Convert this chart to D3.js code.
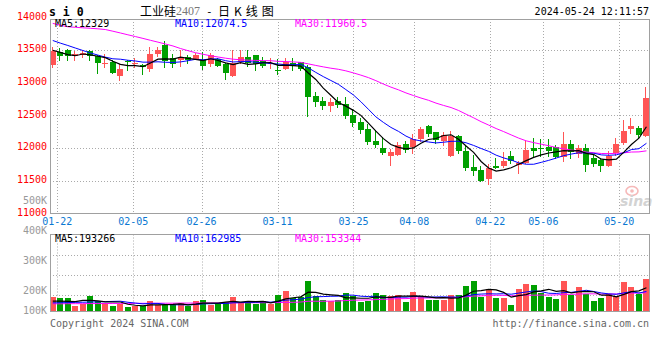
<!DOCTYPE html>
<html><head><meta charset="utf-8">
<script src="https://cdn.jsdelivr.net/npm/d3@7"></script>
<style>
body{margin:0;background:#fff}
svg{display:block}
text{font-family:"DejaVu Sans Mono",monospace;font-size:10px}
</style>
</head><body>
<svg id="chart" width="660" height="360"></svg>
<script>
const dates=["01-19","01-22","01-23","01-24","01-25","01-26","01-29","01-30","01-31","02-01","02-02","02-05","02-06","02-07","02-08","02-19","02-20","02-21","02-22","02-23","02-26","02-27","02-28","02-29","03-01","03-04","03-05","03-06","03-07","03-08","03-11","03-12","03-13","03-14","03-15","03-18","03-19","03-20","03-21","03-22","03-25","03-26","03-27","03-28","03-29","04-01","04-02","04-03","04-08","04-09","04-10","04-11","04-12","04-15","04-16","04-17","04-18","04-19","04-22","04-23","04-24","04-25","04-26","04-29","04-30","05-06","05-07","05-08","05-09","05-10","05-13","05-14","05-15","05-16","05-17","05-20","05-21","05-22","05-23","05-24"];
const open=[13273,13472,13503,13400,13421,13487,13400,13278,13323,13094,13325,13295,13273,13212,13441,13575,13375,13350,13390,13360,13350,13288,13360,13284,13109,13314,13395,13426,13334,13295,13200,13215,13298,13310,13235,12800,12712,12635,12712,12680,12505,12405,12293,12099,12007,11880,11895,12064,12020,12130,12340,12237,12100,11880,12176,11957,11707,11666,11523,11730,11727,11870,11742,11775,12007,11995,12010,12010,11860,12064,11915,12000,11845,11809,11727,11920,12070,12293,12304,12176];
const high=[13553,13530,13510,13490,13492,13503,13426,13441,13350,13284,13339,13375,13290,13544,13544,13630,13441,13492,13426,13460,13472,13452,13375,13298,13503,13492,13503,13430,13390,13375,13360,13375,13370,13320,13265,12850,12785,12760,12775,12785,12600,12460,12370,12270,12175,11985,12084,12099,12215,12315,12345,12252,12252,12267,12191,12048,11895,11717,11758,11840,11931,11946,11794,12110,12160,12130,12140,12050,12252,12125,12048,12064,11900,11850,11946,12150,12431,12460,12330,12930];
const low=[13232,13350,13350,13350,13385,13339,13155,13238,13155,13043,13186,13238,13131,13181,13400,13232,13232,13247,13298,13355,13212,13247,13247,13059,13109,13298,13262,13196,13232,13222,13135,13212,13200,13200,12495,12650,12595,12560,12630,12455,12340,12235,12064,12010,11910,11742,11890,11940,11930,12100,12176,12074,12048,11880,11921,11666,11589,11487,11452,11692,11705,11768,11615,11775,11870,11880,11880,11840,11794,11850,11860,11640,11727,11655,11727,11900,12060,12227,12170,12176];
const close=[13477,13415,13411,13437,13452,13411,13308,13308,13155,13212,13315,13305,13232,13441,13503,13335,13284,13390,13339,13426,13247,13426,13258,13155,13298,13395,13298,13284,13247,13305,13192,13310,13247,13215,12773,12698,12650,12696,12661,12495,12375,12270,12095,12048,11925,11931,12048,11972,12130,12285,12212,12125,12200,12186,11946,11692,11640,11502,11692,11700,11794,11800,11768,11972,11946,11985,11946,11855,12064,11935,11998,11735,11760,11717,11880,12058,12267,12339,12202,12760];
const volume=[119400,108300,108300,41700,61100,127800,83300,63900,41700,58300,33300,41700,41700,83300,52800,50000,50000,63900,38900,83300,91700,50000,66700,75000,116700,63900,75000,58300,83300,58300,136100,166700,108300,119400,252800,127800,91700,83300,91700,150000,127800,77800,83300,150000,133300,125000,133300,77800,158300,125000,91700,91700,91700,133300,133300,212000,254000,119400,183300,111100,111100,50000,183300,229000,220000,152800,119400,100000,254000,133300,196000,138000,80000,112000,138000,121000,240000,197000,143000,265000];
// moving-average values before enough visible history exists
const ma5Head=[13495,13462,13430,13412];
const ma10Head=[13645,13605,13569,13530,13492,13455,13422,13390,13365];
const ma30Head=[13907,13879,13855,13847,13839,13832,13824,13813,13787,13760,13732,13705,13677,13648,13620,13591,13561,13522,13489,13458,13434,13411,13392,13374,13359,13350,13344,13340,13337];
const volMa5Head=[83000,83000,80000,78000];
const volMa10Head=[68000,69000,70000,72000,73000,75000,76000,78000,80000];
const volMa30Head=[60000,60000,61000,61000,61000,62000,62000,62000,63000,63000,63000,64000,64000,64000,65000,65000,65000,66000,66000,66000,67000,67000,67000,68000,68000,68000,69000,69000,69000];
const priceTicks=[13500,13000,12500,12000,11500];
const priceLabels=[14000,13500,13000,12500,12000,11500,11000];
const volLabels=[500000,400000,300000,200000,100000];
const xTickLabels=["01-22","02-05","02-26","03-11","03-25","04-08","04-22","05-06","05-20"];
const legendMain=[{t:"MA5:12329",c:"#000"},{t:"MA10:12074.5",c:"#0000ff"},{t:"MA30:11960.5",c:"#ff00ff"}];
const legendVol=[{t:"MA5:193266",c:"#000"},{t:"MA10:162985",c:"#0000ff"},{t:"MA30:153344",c:"#ff00ff"}];

const RED="#ff5555", GREEN="#00a000", GRID="#aaaaaa", AXIS="#a0a0a0";
const svg=d3.select("#chart");

function ma(vals,n,head){
  return vals.map((v,i)=> i<n-1 ? head[i] : d3.mean(vals.slice(i-n+1,i+1)));
}
const L=50, R=649.5, T=19, B=213.5, VT=234.5, VB=311;

const x=d3.scaleBand().domain(dates).range([49,650.2]);
const cx=d=>x(d)+x.bandwidth()/2;
const gx=d3.scaleLinear().domain([0,dates.length-1]).range([49.7,649.7]);
const y=d3.scaleLinear().domain([11000,14000]).range([213.3,17.3]);
const vy=d3.scaleLinear().domain([0,100000]).range([311,299]);
const vLabelY=d3.scaleLinear().domain([0,100000]).range([351,321]);
const vGrid=d3.scaleLinear().domain([0,1]).range([315.5,295.5]);

const data=dates.map((d,i)=>({d,o:open[i],h:high[i],l:low[i],c:close[i],v:volume[i]}));

const defs=svg.append("defs");
defs.append("clipPath").attr("id","cm").append("rect").attr("x",L).attr("y",T).attr("width",R-L).attr("height",B-T);
defs.append("clipPath").attr("id","cv").append("rect").attr("x",L).attr("y",VT).attr("width",R-L).attr("height",VB-VT);

// grids main
const tickIdx=xTickLabels.map(t=>dates.indexOf(t));
const gxr=i=>Math.round(gx(i))+0.5;
svg.append("g").selectAll("line").data(tickIdx).join("line")
  .attr("x1",gxr).attr("x2",gxr).attr("y1",T).attr("y2",B)
  .attr("stroke",GRID).attr("stroke-dasharray","1,2");
svg.append("g").selectAll("line").data(priceTicks).join("line")
  .attr("x1",L).attr("x2",R).attr("y1",d=>Math.round(y(d))+0.5).attr("y2",d=>Math.round(y(d))+0.5)
  .attr("stroke",GRID).attr("stroke-dasharray","1,2");
// grids volume
svg.append("g").selectAll("line").data(tickIdx).join("line")
  .attr("x1",gxr).attr("x2",gxr).attr("y1",VT).attr("y2",VB)
  .attr("stroke",GRID).attr("stroke-dasharray","1,2");
svg.append("g").selectAll("line").data([1,2,3]).join("line")
  .attr("x1",L).attr("x2",R).attr("y1",d=>vGrid(d)).attr("y2",d=>vGrid(d))
  .attr("stroke",GRID).attr("stroke-dasharray","1,2");

// sina watermark
const wm=svg.append("g").attr("opacity",0.55);
wm.append("ellipse").attr("cx",632).attr("cy",191).attr("rx",6).attr("ry",4.5).attr("fill","none").attr("stroke","#f08080").attr("stroke-width",1.6);
wm.append("circle").attr("cx",632).attr("cy",191).attr("r",1.8).attr("fill","#f08080");
wm.append("text").attr("x",620).attr("y",206).text("sina").attr("fill","#b0b0b0")
  .style("font-family","'DejaVu Sans',sans-serif").style("font-size","14px").style("font-style","italic").style("font-weight","bold");

// candles
const gc=svg.append("g").attr("clip-path","url(#cm)").attr("shape-rendering","crispEdges");
data.forEach(k=>{
  const col=k.c>=k.o?RED:GREEN;
  const left=Math.round(cx(k.d)-3);
  const top=Math.round(y(Math.max(k.o,k.c))), bot=Math.round(y(Math.min(k.o,k.c)));
  gc.append("line").attr("x1",left+2.5).attr("x2",left+2.5).attr("y1",Math.round(y(k.h))).attr("y2",Math.round(y(k.l))+1).attr("stroke",col);
  gc.append("rect").attr("x",left).attr("width",6).attr("y",top).attr("height",Math.max(1,bot-top)).attr("fill",col);
});

// MA lines main
const ma5=ma(close,5,ma5Head), ma10=ma(close,10,ma10Head), ma30=ma(close,30,ma30Head);
const line=d3.line().x((d,i)=>cx(dates[i])).y(d=>y(d));
const gm=svg.append("g").attr("clip-path","url(#cm)").attr("fill","none");
gm.append("path").attr("d",line(ma30)).attr("stroke","#ff00ff");
gm.append("path").attr("d",line(ma10)).attr("stroke","#0000ff");
gm.append("path").attr("d",line(ma5)).attr("stroke","#000").attr("stroke-width",1.2);

// volume bars
const gvb=svg.append("g").attr("clip-path","url(#cv)").attr("shape-rendering","crispEdges");
gvb.selectAll("rect").data(data).join("rect")
  .attr("x",d=>Math.round(cx(d.d)-3)).attr("width",6)
  .attr("y",d=>Math.round(vy(d.v))).attr("height",d=>VB-Math.round(vy(d.v)))
  .attr("fill",d=>d.c>=d.o?RED:GREEN);
const vline=d3.line().x((d,i)=>cx(dates[i])).y(d=>vy(d));
const gvm=svg.append("g").attr("clip-path","url(#cv)").attr("fill","none");
gvm.append("path").attr("d",vline(ma(volume,30,volMa30Head))).attr("stroke","#ff00ff");
gvm.append("path").attr("d",vline(ma(volume,10,volMa10Head))).attr("stroke","#0000ff");
gvm.append("path").attr("d",vline(ma(volume,5,volMa5Head))).attr("stroke","#000").attr("stroke-width",1.2);

// frames
const fr=svg.append("g").attr("stroke",AXIS).attr("fill","none").attr("shape-rendering","crispEdges");
fr.append("rect").attr("x",L).attr("y",T).attr("width",R-L).attr("height",B-T);
fr.append("rect").attr("x",L).attr("y",VT).attr("width",R-L).attr("height",VB-VT);

// price labels
svg.append("g").selectAll("text").data(priceLabels).join("text")
  .attr("x",47).attr("y",d=>y(d)+2.2).attr("text-anchor","end").attr("fill","#ff0000").text(d=>d);
// volume labels
svg.append("g").selectAll("text").data(volLabels).join("text")
  .attr("x",47).attr("y",d=>Math.min(311,vLabelY(d))+3.2).attr("text-anchor","end").attr("fill","#999")
  .text(d=>(d/1000)+"K");
// x labels
svg.append("g").selectAll("text").data(tickIdx).join("text")
  .attr("x",d=>gx(d)).attr("y",225).attr("text-anchor","middle").attr("fill","#0a78d2")
  .text((d,i)=>xTickLabels[i]);

// legends
const lx=[55,175,295];
svg.append("g").selectAll("text").data(legendMain).join("text")
  .attr("x",(d,i)=>lx[i]).attr("y",26.8).attr("fill",d=>d.c).text(d=>d.t);
svg.append("g").selectAll("text").data(legendVol).join("text")
  .attr("x",(d,i)=>lx[i]).attr("y",241.8).attr("fill",d=>d.c).text(d=>d.t);

// header
svg.append("text").attr("x",49).attr("y",16).text("s i 0").style("font-weight","bold").style("font-size","11.5px").attr("fill","#000");
const cjk="'Noto Sans CJK SC',sans-serif";
svg.append("text").attr("x",140).attr("y",15.5).text("工业硅").style("font-family",cjk).style("font-size","12px");
svg.append("text").attr("x",176).attr("y",14.5).text("2407").style("font-family","'Liberation Serif',serif").style("font-size","12px").attr("fill","#777");
svg.append("text").attr("x",206).attr("y",14.5).text("-").style("font-size","11px");
svg.append("text").attr("x",218).attr("y",15.5).text("日K线图").style("font-family",cjk).style("font-size","12px").style("letter-spacing","4px");
svg.append("text").attr("x",649).attr("y",15).attr("text-anchor","end").text("2024-05-24 12:11:57");

// footer
svg.append("text").attr("x",50).attr("y",327).attr("fill","#666").text("Copyright 2024 SINA.COM");
svg.append("text").attr("x",649).attr("y",327).attr("text-anchor","end").attr("fill","#666").text("http://finance.sina.com.cn");
</script>
</body></html>
